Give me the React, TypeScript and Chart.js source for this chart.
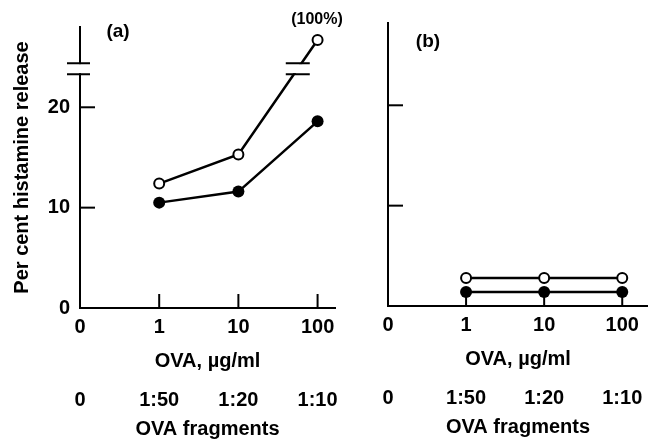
import React, { useEffect, useRef } from "react";
import { Chart, registerables } from "chart.js";

Chart.register(...registerables);

// ---- data ----
const xPositions = [0, 1, 2, 3];
const concLabels = ["0", "1", "10", "100"];
const fragLabels = ["0", "1:50", "1:20", "1:10"];
const dataX = [1, 2, 3];
const openA = [12.4, 15.3, 26.7];
const filledA = [10.5, 11.6, 18.6];
const openB = [2.8, 2.8, 2.8];
const filledB = [1.4, 1.4, 1.4];
const yTicks = [0, 10, 20];
const innerYTicks = [10, 20];
const innerXTicks = [1, 2, 3];
const breakLow = 23.3;
const breakHigh = 24.4;

const FONT = "'Liberation Sans', Arial, Helvetica, sans-serif";
const tickFont = { family: FONT, size: 20, weight: "bold" as const };
const titleFont = { family: FONT, size: 20, weight: "bold" as const };

type PanelSpec = {
  width: number;
  left: number;
  yWidth: number;
  padTop: number;
  padRight: number;
  padBottom: number;
  xMax: number;
  yMax: number;
  open: number[];
  filled: number[];
  showYLabels: boolean;
  letter: string;
  letterPos: [number, number];
  broken: boolean;
};

const panels: PanelSpec[] = [
  {
    width: 348, left: 0, yWidth: 80, padTop: 27, padRight: 13, padBottom: 2,
    xMax: 3.22, yMax: 28, open: openA, filled: filledA, showYLabels: true,
    letter: "(a)", letterPos: [118, 32], broken: true,
  },
  {
    width: 300, left: 348, yWidth: 40, padTop: 23, padRight: 0, padBottom: 4,
    xMax: 3.33, yMax: 28.2, open: openB, filled: filledB, showYLabels: false,
    letter: "(b)", letterPos: [80, 42], broken: false,
  },
];

function makePlugin(spec: PanelSpec) {
  return {
    id: "decor" + spec.letter.replace(/[()]/g, ""),
    afterDraw(chart: any) {
      const ctx = chart.ctx as CanvasRenderingContext2D;
      const xs = chart.scales.x;
      const ys = chart.scales.y;
      const area = chart.chartArea;
      ctx.save();
      ctx.strokeStyle = "#000";
      ctx.lineWidth = 2;
      // inward ticks
      innerXTicks.forEach((v) => {
        const px = xs.getPixelForValue(v);
        ctx.beginPath();
        ctx.moveTo(px, area.bottom);
        ctx.lineTo(px, area.bottom - 14);
        ctx.stroke();
      });
      innerYTicks.forEach((v) => {
        const py = ys.getPixelForValue(v);
        ctx.beginPath();
        ctx.moveTo(area.left, py);
        ctx.lineTo(area.left + 15, py);
        ctx.stroke();
      });
      if (spec.broken) {
        const yH = ys.getPixelForValue(breakHigh);
        const yL = ys.getPixelForValue(breakLow);
        // axis break
        ctx.fillStyle = "#fff";
        ctx.fillRect(area.left - 4, yH + 1, 8, yL - yH - 2);
        ctx.beginPath();
        ctx.moveTo(area.left - 13, yH);
        ctx.lineTo(area.left + 10, yH);
        ctx.moveTo(area.left - 13, yL);
        ctx.lineTo(area.left + 10, yL);
        ctx.stroke();
        // line break
        const meta = chart.getDatasetMeta(0);
        const p1 = meta.data[1];
        const p2 = meta.data[2];
        const ym = (yH + yL) / 2;
        const t = (p1.y - ym) / (p1.y - p2.y);
        const xm = p1.x + t * (p2.x - p1.x);
        ctx.fillStyle = "#fff";
        ctx.fillRect(xm - 12, yH + 1, 24, yL - yH - 2);
        ctx.beginPath();
        ctx.moveTo(xm - 12, yH);
        ctx.lineTo(xm + 12, yH);
        ctx.moveTo(xm - 12, yL);
        ctx.lineTo(xm + 12, yL);
        ctx.stroke();
        ctx.fillStyle = "#000";
        ctx.font = `bold 16px ${FONT}`;
        ctx.textAlign = "center";
        ctx.textBaseline = "middle";
        ctx.fillText("(100%)", 317, 20);
      }
      ctx.fillStyle = "#000";
      ctx.font = `bold 19px ${FONT}`;
      ctx.textAlign = "center";
      ctx.textBaseline = "middle";
      ctx.fillText(spec.letter, spec.letterPos[0], spec.letterPos[1]);
      ctx.restore();
    },
  };
}

function Panel({ spec }: { spec: PanelSpec }) {
  const ref = useRef<HTMLCanvasElement>(null);
  useEffect(() => {
    if (!ref.current) return;
    const setTicks = (vals: number[]) => (s: any) => {
      s.ticks = vals.map((v) => ({ value: v }));
    };
    const chart = new Chart(ref.current, {
      type: "line",
      data: {
        datasets: [
          {
            data: dataX.map((x, i) => ({ x, y: spec.open[i] })),
            borderColor: "#000",
            borderWidth: 2.5,
            pointRadius: 5,
            pointBorderWidth: 2,
            pointBackgroundColor: "#fff",
            pointBorderColor: "#000",
            fill: false,
            tension: 0,
            clip: false,
          },
          {
            data: dataX.map((x, i) => ({ x, y: spec.filled[i] })),
            borderColor: "#000",
            borderWidth: 2.5,
            pointRadius: 6,
            pointBorderWidth: 0,
            pointBackgroundColor: "#000",
            pointBorderColor: "#000",
            fill: false,
            tension: 0,
            clip: false,
          },
        ],
      },
      options: {
        animation: false,
        responsive: false,
        maintainAspectRatio: false,
        layout: {
          autoPadding: false,
          padding: { top: spec.padTop, right: spec.padRight, bottom: spec.padBottom, left: 0 },
        },
        plugins: { legend: { display: false }, tooltip: { enabled: false } },
        scales: {
          x: {
            type: "linear",
            position: "bottom",
            min: 0,
            max: spec.xMax,
            grid: { display: false, drawTicks: false },
            border: { display: true, color: "#000", width: 2 },
            afterBuildTicks: setTicks(xPositions),
            ticks: {
              padding: 7,
              font: tickFont,
              color: "#000",
              autoSkip: false,
              maxRotation: 0,
              callback: (v: any) => concLabels[xPositions.indexOf(v)] ?? "",
            },
            title: {
              display: true,
              text: "OVA, µg/ml",
              font: titleFont,
              color: "#000",
              padding: { top: 0, bottom: 0 },
            },
            afterFit: (s: any) => {
              s.height = 65;
              s.paddingLeft = 0;
              s.paddingRight = 0;
            },
          },
          x2: {
            type: "linear",
            position: "bottom",
            min: 0,
            max: spec.xMax,
            grid: { display: false, drawTicks: false },
            border: { display: false },
            afterBuildTicks: setTicks(xPositions),
            ticks: {
              padding: 15,
              font: tickFont,
              color: "#000",
              autoSkip: false,
              maxRotation: 0,
              callback: (v: any) => fragLabels[xPositions.indexOf(v)] ?? "",
            },
            title: {
              display: true,
              text: "OVA fragments",
              font: titleFont,
              color: "#000",
              padding: { top: 0, bottom: 0 },
            },
            afterFit: (s: any) => {
              s.height = 68;
              s.paddingLeft = 0;
              s.paddingRight = 0;
            },
          },
          y: {
            type: "linear",
            min: 0,
            max: spec.yMax,
            grid: { display: false, drawTicks: false },
            border: { display: true, color: "#000", width: 2 },
            afterBuildTicks: setTicks(yTicks),
            ticks: {
              display: spec.showYLabels,
              padding: 10,
              font: tickFont,
              color: "#000",
            },
            title: {
              display: spec.showYLabels,
              text: "Per cent histamine release",
              font: titleFont,
              color: "#000",
              padding: { top: 10, bottom: 0 },
            },
            afterFit: (s: any) => {
              s.width = spec.yWidth;
            },
          },
        },
      },
      plugins: [makePlugin(spec)],
    } as any);
    return () => chart.destroy();
  }, [spec]);
  return (
    <canvas
      ref={ref}
      width={spec.width}
      height={443}
      style={{ position: "absolute", left: spec.left, top: 0, display: "block" }}
    />
  );
}

export default function App() {
  return (
    <div
      style={{
        position: "absolute",
        left: 0,
        top: 0,
        width: 648,
        height: 443,
        background: "#fff",
      }}
    >
      {panels.map((p) => (
        <Panel key={p.letter} spec={p} />
      ))}
    </div>
  );
}
